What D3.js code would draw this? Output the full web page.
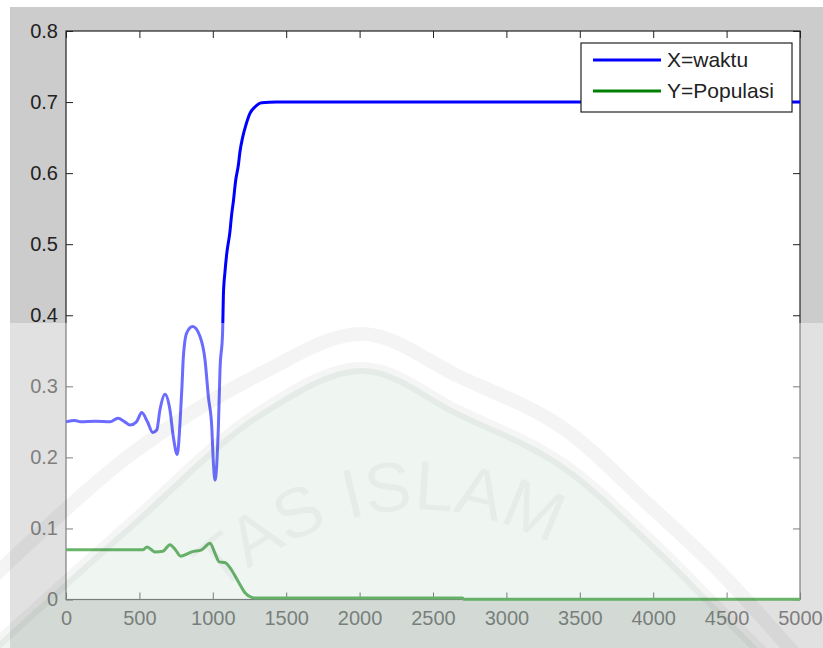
<!DOCTYPE html>
<html>
<head>
<meta charset="utf-8">
<script src="https://cdn.jsdelivr.net/npm/d3@7"></script>
<style>
  body { margin: 0; background: #fff; }
  svg { display: block; font-family: "Liberation Sans", Arial, sans-serif; }
</style>
</head>
<body>
<svg id="chart" width="823" height="648"></svg>
<script>
// X=waktu (blue)
var waktuT = [0, 60, 100, 200, 300, 354, 400, 436, 480, 516, 555, 591, 618, 640, 674, 708, 731, 758, 777, 790, 799, 822, 863, 913, 947, 970, 993, 1003, 1015, 1038, 1049, 1067, 1072, 1083, 1094, 1117, 1128, 1140, 1156, 1174, 1185, 1204, 1226, 1253, 1287, 1333, 1435, 5000];
var waktuV = [0.25, 0.252, 0.25, 0.251, 0.25, 0.255, 0.25, 0.2455, 0.25, 0.263, 0.25, 0.235, 0.2385, 0.267, 0.289, 0.267, 0.229, 0.204, 0.25, 0.30, 0.34, 0.375, 0.384, 0.37, 0.337, 0.285, 0.243, 0.196, 0.168, 0.243, 0.323, 0.377, 0.428, 0.461, 0.485, 0.518, 0.541, 0.56, 0.59, 0.611, 0.63, 0.651, 0.668, 0.684, 0.693, 0.699, 0.7, 0.7];

// Y=Populasi (green)
var populasiT = [0, 525, 552, 606, 660, 708, 745, 781, 856, 924, 981, 1015, 1044, 1083, 1128, 1174, 1219, 1265, 1299, 2700, 2710, 5000];
var populasiV = [0.07, 0.07, 0.074, 0.067, 0.068, 0.077, 0.07, 0.061, 0.067, 0.07, 0.079, 0.065, 0.053, 0.052, 0.0415, 0.025, 0.0096, 0.003, 0.002, 0.002, 0.0005, 0.0005];

var xTicks = [0, 500, 1000, 1500, 2000, 2500, 3000, 3500, 4000, 4500, 5000];
var yTicks = [0, 0.1, 0.2, 0.3, 0.4, 0.5, 0.6, 0.7, 0.8];
var legendNames = ['X=waktu', 'Y=Populasi'];
var legendColors = ['#0000ff', '#008000'];

// plot box (don't call it "top", that's window.top)
var box = { l: 66, r: 800, t: 31, b: 599.5 };
var svg = d3.select('#chart');

// figure background
svg.append('rect').attr('x', 10).attr('y', 7).attr('width', 813).attr('height', 641).attr('fill', '#cccccc');
svg.append('rect').attr('x', box.l).attr('y', box.t).attr('width', box.r - box.l).attr('height', box.b - box.t).attr('fill', '#fff');

var x = d3.scaleLinear().domain([0, 5000]).range([box.l, box.r]);
var y = d3.scaleLinear().domain([0, 0.8]).range([box.b, box.t]);

function styleAxis(g) {
    g.select('.domain').remove();
    g.selectAll('line').attr('stroke', '#222');
    g.selectAll('text').attr('fill', '#222').style('font-size', '20px').style('font-family', '"Liberation Sans", Arial, sans-serif');
}

svg.append('g').attr('transform', 'translate(0,' + box.b + ')')
    .call(d3.axisBottom(x).tickValues(xTicks).tickSize(-7).tickPadding(11).tickFormat(d3.format('d')))
    .call(styleAxis);
svg.append('g').attr('transform', 'translate(' + box.l + ',0)')
    .call(d3.axisLeft(y).tickValues(yTicks).tickSize(-7).tickPadding(8).tickFormat(d => d === 0 ? '0' : d3.format('.1f')(d)))
    .call(styleAxis);
svg.append('g').attr('transform', 'translate(0,' + box.t + ')')
    .call(d3.axisTop(x).tickValues(xTicks).tickSize(-7).tickFormat(''))
    .call(styleAxis);
svg.append('g').attr('transform', 'translate(' + box.r + ',0)')
    .call(d3.axisRight(y).tickValues(yTicks).tickSize(-7).tickFormat(''))
    .call(styleAxis);

svg.append('rect').attr('x', box.l).attr('y', box.t).attr('width', box.r - box.l).attr('height', box.b - box.t)
    .attr('fill', 'none').attr('stroke', '#222').attr('stroke-width', 1.2);

var line = d3.line().curve(d3.curveMonotoneX).x(d => x(d[0])).y(d => y(d[1]));

svg.append('path')
    .datum(d3.zip(populasiT, populasiV))
    .attr('d', line).attr('fill', 'none').attr('stroke', legendColors[1]).attr('stroke-width', 3);
svg.append('path')
    .datum(d3.zip(waktuT, waktuV))
    .attr('d', line).attr('fill', 'none').attr('stroke', legendColors[0]).attr('stroke-width', 3);

// legend
var lg = svg.append('g');
lg.append('rect').attr('x', 581).attr('y', 43).attr('width', 211).attr('height', 69)
    .attr('fill', '#fff').attr('stroke', '#222').attr('stroke-width', 1.2);
legendNames.forEach(function (name, i) {
    lg.append('line').attr('x1', 593).attr('x2', 661).attr('y1', 60 + i * 31).attr('y2', 60 + i * 31)
        .attr('stroke', legendColors[i]).attr('stroke-width', 3);
    lg.append('text').attr('x', 667).attr('y', 67 + i * 31).text(name)
        .attr('fill', '#222').style('font-size', '21px');
});

// faded watermark over the lower part of the picture
var wm = svg.append('g').attr('pointer-events', 'none');
wm.append('rect').attr('x', 0).attr('y', 323).attr('width', 823).attr('height', 325).attr('fill', '#fff').attr('opacity', 0.42);
var arch = d3.line().curve(d3.curveCatmullRom);
var outer = [[-10, 580], [130, 455], [260, 374], [363, 334], [460, 377], [560, 426], [650, 506], [720, 572], [800, 660]];
var inner = [[-10, 650], [130, 524], [260, 412], [363, 368], [460, 412], [560, 462], [650, 540], [720, 610], [770, 660]];
wm.append('path').attr('d', arch(inner.concat([[770, 660], [-10, 660]])))
    .attr('fill', '#2e8b57').attr('opacity', 0.08);
wm.append('path').attr('d', arch(outer)).attr('fill', 'none').attr('stroke', '#000').attr('stroke-opacity', 0.045).attr('stroke-width', 14);
wm.append('path').attr('d', arch(inner)).attr('fill', 'none').attr('stroke', '#000').attr('stroke-opacity', 0.04).attr('stroke-width', 12);
wm.append('path').attr('id', 'wmArc').attr('d', 'M 170,640 Q 400,390 660,620').attr('fill', 'none');
wm.append('text').style('font-size', '70px').attr('fill', '#000').attr('fill-opacity', 0.035)
    .append('textPath').attr('href', '#wmArc').attr('startOffset', '12%').text('TAS ISLAM');
</script>
</body>
</html>
